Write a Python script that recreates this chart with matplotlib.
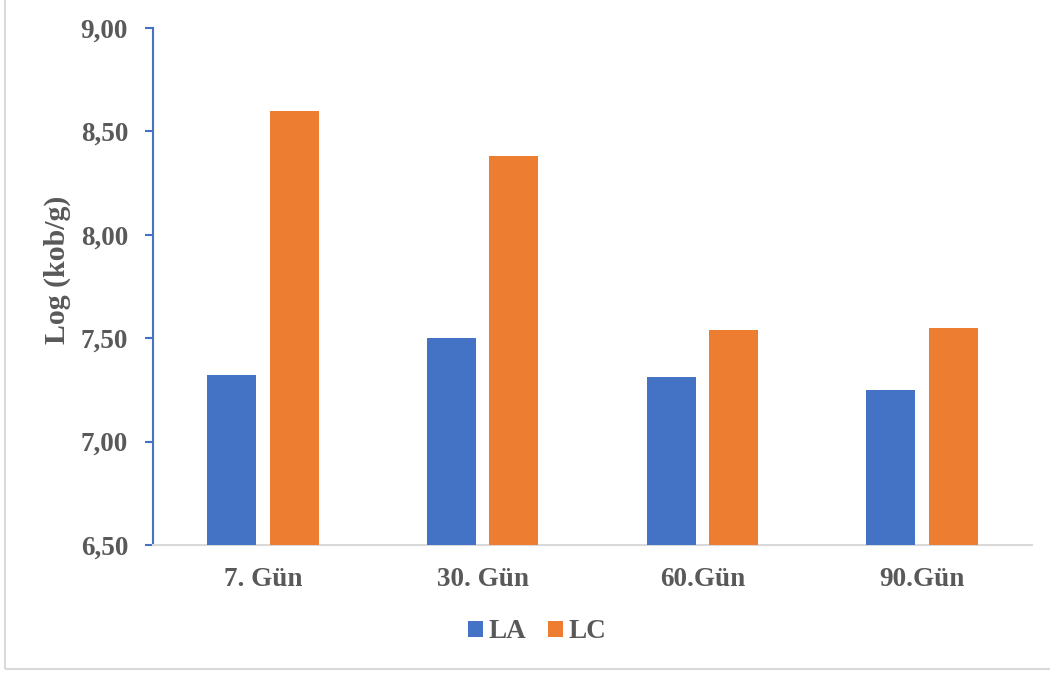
import matplotlib.pyplot as plt
import numpy as np
from matplotlib.patches import Rectangle

categories = ["7. Gün", "30. Gün", "60.Gün", "90.Gün"]
la_values = [7.32, 7.50, 7.31, 7.25]
lc_values = [8.60, 8.38, 7.54, 7.55]
series_names = ["LA", "LC"]
y_ticks = [6.50, 7.00, 7.50, 8.00, 8.50, 9.00]

BLUE = "#4472C4"
ORANGE = "#ED7D31"
TEXT = "#595959"

plt.rcParams["font.family"] = ["Liberation Serif", "DejaVu Serif"]
plt.rcParams["font.weight"] = "bold"

fig = plt.figure(figsize=(10.5, 6.75), dpi=100)
W, H = 1050, 675
ax = fig.add_axes([153 / W, 1 - 545 / H, (1032 - 153) / W, (545 - 28) / H])

x = np.arange(len(categories))
width = 0.223
offset = 0.142
ax.bar(x - offset, np.array(la_values) - 6.5, width, bottom=6.5, color=BLUE, label=series_names[0], zorder=3)
ax.bar(x + offset, np.array(lc_values) - 6.5, width, bottom=6.5, color=ORANGE, label=series_names[1], zorder=3)

ax.set_xlim(-0.5, len(categories) - 0.5)
ax.set_ylim(6.5, 9.0)
ax.set_yticks(y_ticks)
ax.set_yticklabels([f"{v:.2f}".replace(".", ",") for v in y_ticks])
ax.set_xticks(x)
ax.set_xticklabels(categories)

for s in ["top", "right"]:
    ax.spines[s].set_visible(False)
ax.spines["left"].set_color(BLUE)
ax.spines["left"].set_linewidth(1.5)
ax.spines["bottom"].set_color("#D9D9D9")
ax.spines["bottom"].set_linewidth(1.5)

ax.tick_params(axis="y", direction="out", length=6, width=1.5, color=BLUE,
               labelsize=19.5, labelcolor=TEXT, pad=12)
ax.tick_params(axis="x", length=0, labelsize=19.5, labelcolor=TEXT, pad=16)
for lbl in ax.get_xticklabels() + ax.get_yticklabels():
    lbl.set_fontweight("bold")

fig.text(57 / W, 1 - 270 / H, "Log (kob/g)", rotation=90, ha="center", va="center",
         fontsize=21.5, fontweight="bold", color=TEXT)

leg = fig.legend(loc="center", bbox_to_anchor=(537 / W, 1 - 632 / H), ncol=2,
                 frameon=False, fontsize=19.5, handlelength=0.55, handleheight=0.55,
                 handletextpad=0.2, columnspacing=0.8)
for t in leg.get_texts():
    t.set_color(TEXT)
    t.set_fontweight("bold")

# chart area border
fig.patches.append(Rectangle((5 / W, 1 - 669 / H), (W + 10 - 5) / W, 669 / H + 0.01,
                             transform=fig.transFigure, fill=False,
                             edgecolor="#D9D9D9", linewidth=1.5, zorder=0))

fig.savefig("out.png", dpi=100)
